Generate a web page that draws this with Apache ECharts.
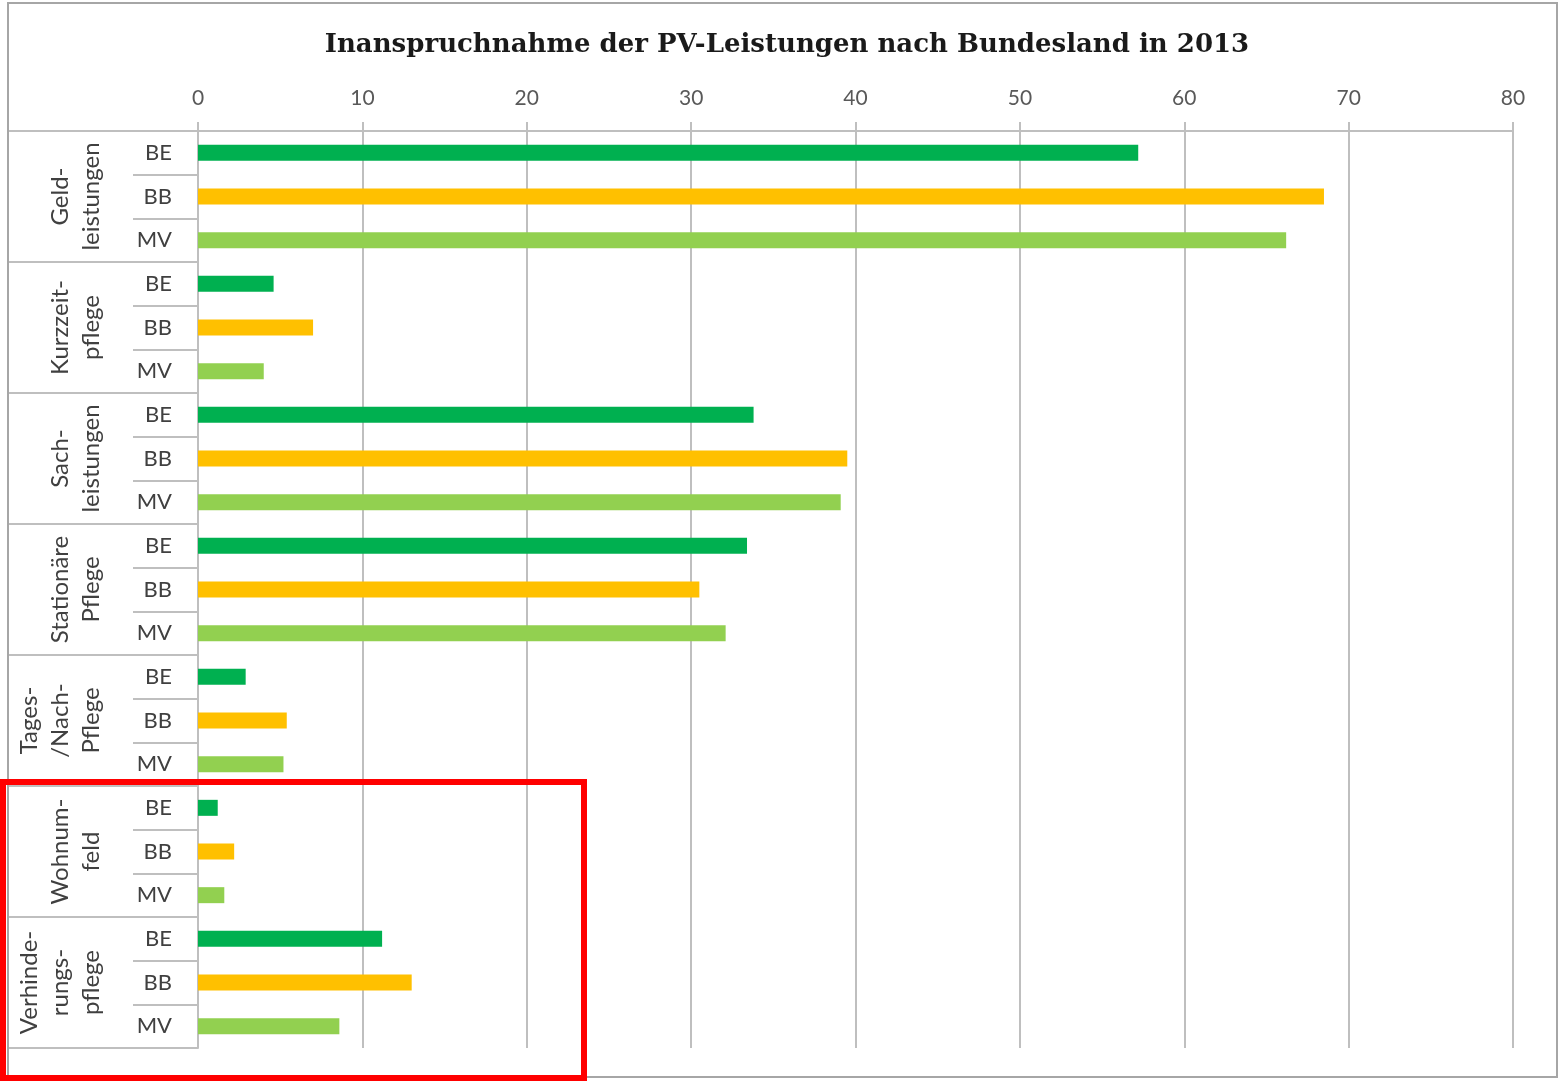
<!DOCTYPE html>
<html>
<head>
	<meta charset="utf-8" />
	<title>Inanspruchnahme der PV-Leistungen</title>
	<script src="https://cdn.jsdelivr.net/npm/echarts@6/dist/echarts.min.js"></script>
	<style>
		html, body { margin: 0; padding: 0; background: #fff; }
		#main { width: 1563px; height: 1082px; }
	</style>
</head>
<body>
	<div id="main"></div>
	<script>
		// Leistungsarten (Gruppen) und Bundesländer
		var groups = ['Geld-\nleistungen', 'Kurzzeit-\npflege', 'Sach-\nleistungen', 'Stationäre\nPflege',
			'Tages-\n/Nach-\nPflege', 'Wohnum-\nfeld', 'Verhinde-\nrungs-\npflege'];
		var states = ['BE', 'BB', 'MV'];
		// Werte je Bundesland, Reihenfolge wie groups
		var valBE = [57.2, 4.6, 33.8, 33.4, 2.9, 1.2, 11.2];
		var valBB = [68.5, 7.0, 39.5, 30.5, 5.4, 2.2, 13.0];
		var valMV = [66.2, 4.0, 39.1, 32.1, 5.2, 1.6, 8.6];
		var xTicks = { min: 0, max: 80, interval: 10 };
		var stateColors = ['#00b050', '#ffc000', '#92d050'];

		var rows = [], values = [];
		var byState = [valBE, valBB, valMV];
		for (var g = 0; g < groups.length; g++) {
			for (var s = 0; s < states.length; s++) {
				rows.push(states[s]);
				values.push(byState[s][g]);
			}
		}

		var chart = echarts.init(document.getElementById('main'));
		var option = {
			animation: false,
			title: {
				text: 'Inanspruchnahme der PV-Leistungen nach Bundesland in 2013',
				left: 782,
				textAlign: 'center',
				top: 27,
				textStyle: {
					fontFamily: 'DejaVu Serif',
					fontWeight: 'bold',
					fontSize: 26,
					color: '#1a1a1a'
				}
			},
			grid: { left: 198, top: 131, right: 50, bottom: 34 },
			xAxis: {
				type: 'value',
				position: 'top',
				min: xTicks.min,
				max: xTicks.max,
				interval: xTicks.interval,
				axisLine: { show: true, lineStyle: { color: '#bfbfbf', width: 2 } },
				axisTick: { show: true, length: 9, lineStyle: { color: '#bfbfbf', width: 2 } },
				splitLine: { show: true, lineStyle: { color: '#bfbfbf', width: 2 } },
				axisLabel: { color: '#595959', fontSize: 21, fontFamily: 'Lato', margin: 22 }
			},
			yAxis: [
				{
					type: 'category',
					data: rows,
					inverse: true,
					axisLine: { show: true, lineStyle: { color: '#bfbfbf', width: 2 } },
					axisTick: { show: true, length: 65, lineStyle: { color: '#bfbfbf', width: 2 } },
					axisLabel: { color: '#404040', fontSize: 22, fontFamily: 'Lato', margin: 26, interval: 0 }
				},
				{
					type: 'category',
					data: groups,
					inverse: true,
					position: 'left',
					axisLine: { show: false },
					axisTick: { show: true, length: 190, lineStyle: { color: '#bfbfbf', width: 2 } },
					axisLabel: {
						color: '#404040', fontSize: 24, fontFamily: 'Lato', lineHeight: 31,
						rotate: 90, margin: 91, interval: 0,
						align: 'center', verticalAlign: 'bottom'
					}
				}
			],
			series: [{
				type: 'bar',
				yAxisIndex: 0,
				data: values,
				barWidth: 16,
				itemStyle: {
					color: function (p) { return stateColors[p.dataIndex % 3]; }
				}
			}],
			graphic: [
				{
					type: 'rect',
					shape: { x: 8, y: 3, width: 1549, height: 1074 },
					style: { fill: 'none', stroke: '#a6a6a6', lineWidth: 2 },
					z: 100
				},
				{
					type: 'rect',
					shape: { x: 3, y: 782, width: 581, height: 296 },
					style: { fill: 'none', stroke: '#ff0000', lineWidth: 6 },
					z: 101
				}
			]
		};
		chart.setOption(option);
	</script>
</body>
</html>
